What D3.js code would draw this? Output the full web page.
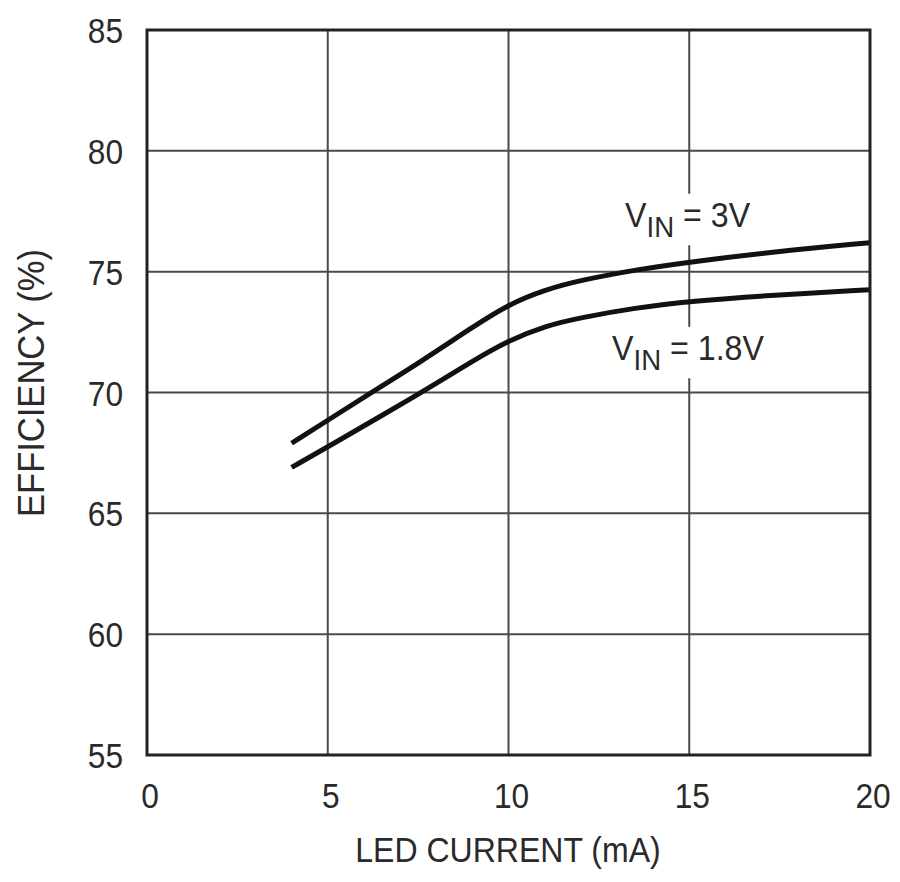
<!DOCTYPE html>
<html>
<head>
<meta charset="utf-8">
<script src="https://cdn.jsdelivr.net/npm/d3@7"></script>
<style>
  body { margin: 0; background: #fff; }
  text { font-family: "Liberation Sans", Arial, sans-serif; fill: #2a2a2a; }
</style>
</head>
<body>
<script>
const width = 900;
const height = 882;

// LED current (mA) and efficiency (%)
const vin3Current = [4, 5, 6.2, 7.5, 9, 10, 11, 12, 13.6, 15, 17.5, 20];
const vin3Eff = [67.9, 68.85, 70, 71.2, 72.7, 73.65, 74.25, 74.65, 75.1, 75.4, 75.85, 76.2];
const vin18Current = [4, 5, 7.6, 9, 10, 11, 12, 13.5, 15, 17.5, 20];
const vin18Eff = [66.9, 67.75, 70, 71.3, 72.15, 72.75, 73.1, 73.5, 73.78, 74.05, 74.25];

const xTicks = [0, 5, 10, 15, 20];
const yTicks = [55, 60, 65, 70, 75, 80, 85];

const margin = { top: 30, right: 30, bottom: 127, left: 147 };

const svg = d3
  .select("body")
  .append("svg")
  .attr("width", width)
  .attr("height", height);

const x = d3.scaleLinear().domain([0, 20]).range([margin.left, width - margin.right]);
const y = d3.scaleLinear().domain([55, 85]).range([height - margin.bottom, margin.top]);

// narrow text: no condensed font installed, so squeeze horizontally
const texto = (px, py, sx, rot) =>
  `translate(${px},${py})` + (rot ? ` rotate(${rot})` : "") + ` scale(${sx},1)`;

// grid
svg
  .append("g")
  .selectAll("line")
  .data(xTicks.slice(1, -1))
  .enter()
  .append("line")
  .attr("x1", (d) => x(d))
  .attr("x2", (d) => x(d))
  .attr("y1", y(85))
  .attr("y2", y(55))
  .attr("stroke", "#4a4a4a")
  .attr("stroke-width", 2);

svg
  .append("g")
  .selectAll("line")
  .data(yTicks.slice(1, -1))
  .enter()
  .append("line")
  .attr("x1", x(0))
  .attr("x2", x(20))
  .attr("y1", (d) => y(d))
  .attr("y2", (d) => y(d))
  .attr("stroke", "#4a4a4a")
  .attr("stroke-width", 2);

const linea = d3
  .line()
  .x((d) => x(d[0]))
  .y((d) => y(d[1]))
  .curve(d3.curveBasis);

const series = [
  d3.zip(vin3Current, vin3Eff),
  d3.zip(vin18Current, vin18Eff),
];

// labels with white boxes behind
const etiquetas = [
  { main: "V", sub: "IN", rest: " = 3V", x: 625, y: 227 },
  { main: "V", sub: "IN", rest: " = 1.8V", x: 612, y: 360 },
];

etiquetas.forEach((e) => {
  const t = svg
    .append("text")
    .attr("transform", texto(e.x, e.y, 0.92))
    .attr("font-size", 35);
  t.append("tspan").text(e.main);
  t.append("tspan").attr("font-size", 30).attr("dy", 10).text(e.sub);
  t.append("tspan").attr("dy", -10).text(e.rest);
  const bb = t.node().getBBox();
  svg
    .insert("rect", "text")
    .attr("x", e.x + bb.x * 0.92 - 4)
    .attr("y", e.y + bb.y - 2)
    .attr("width", bb.width * 0.92 + 8)
    .attr("height", bb.height + 4)
    .attr("fill", "#fff");
});

svg
  .selectAll("path.curva")
  .data(series)
  .enter()
  .append("path")
  .attr("class", "curva")
  .attr("d", linea)
  .attr("fill", "none")
  .attr("stroke", "#111")
  .attr("stroke-width", 5);

// frame
svg
  .append("rect")
  .attr("x", x(0))
  .attr("y", y(85))
  .attr("width", x(20) - x(0))
  .attr("height", y(55) - y(85))
  .attr("fill", "none")
  .attr("stroke", "#222")
  .attr("stroke-width", 3);

// tick labels
svg
  .selectAll("text.ytick")
  .data(yTicks)
  .enter()
  .append("text")
  .attr("class", "ytick")
  .attr("transform", (d) => texto(123, y(d) + 13, 0.88))
  .attr("text-anchor", "end")
  .attr("font-size", 36)
  .text((d) => d);

svg
  .selectAll("text.xtick")
  .data(xTicks)
  .enter()
  .append("text")
  .attr("class", "xtick")
  .attr("transform", (d) => texto(x(d) + 3, 808, 0.88))
  .attr("text-anchor", "middle")
  .attr("font-size", 36)
  .text((d) => d);

// axis titles
svg
  .append("text")
  .attr("transform", texto(508, 862, 0.89))
  .attr("text-anchor", "middle")
  .attr("font-size", 36)
  .text("LED CURRENT (mA)");

svg
  .append("text")
  .attr("transform", texto(44, 383, 0.96, -90))
  .attr("text-anchor", "middle")
  .attr("font-size", 36)
  .text("EFFICIENCY (%)");
</script>
</body>
</html>
